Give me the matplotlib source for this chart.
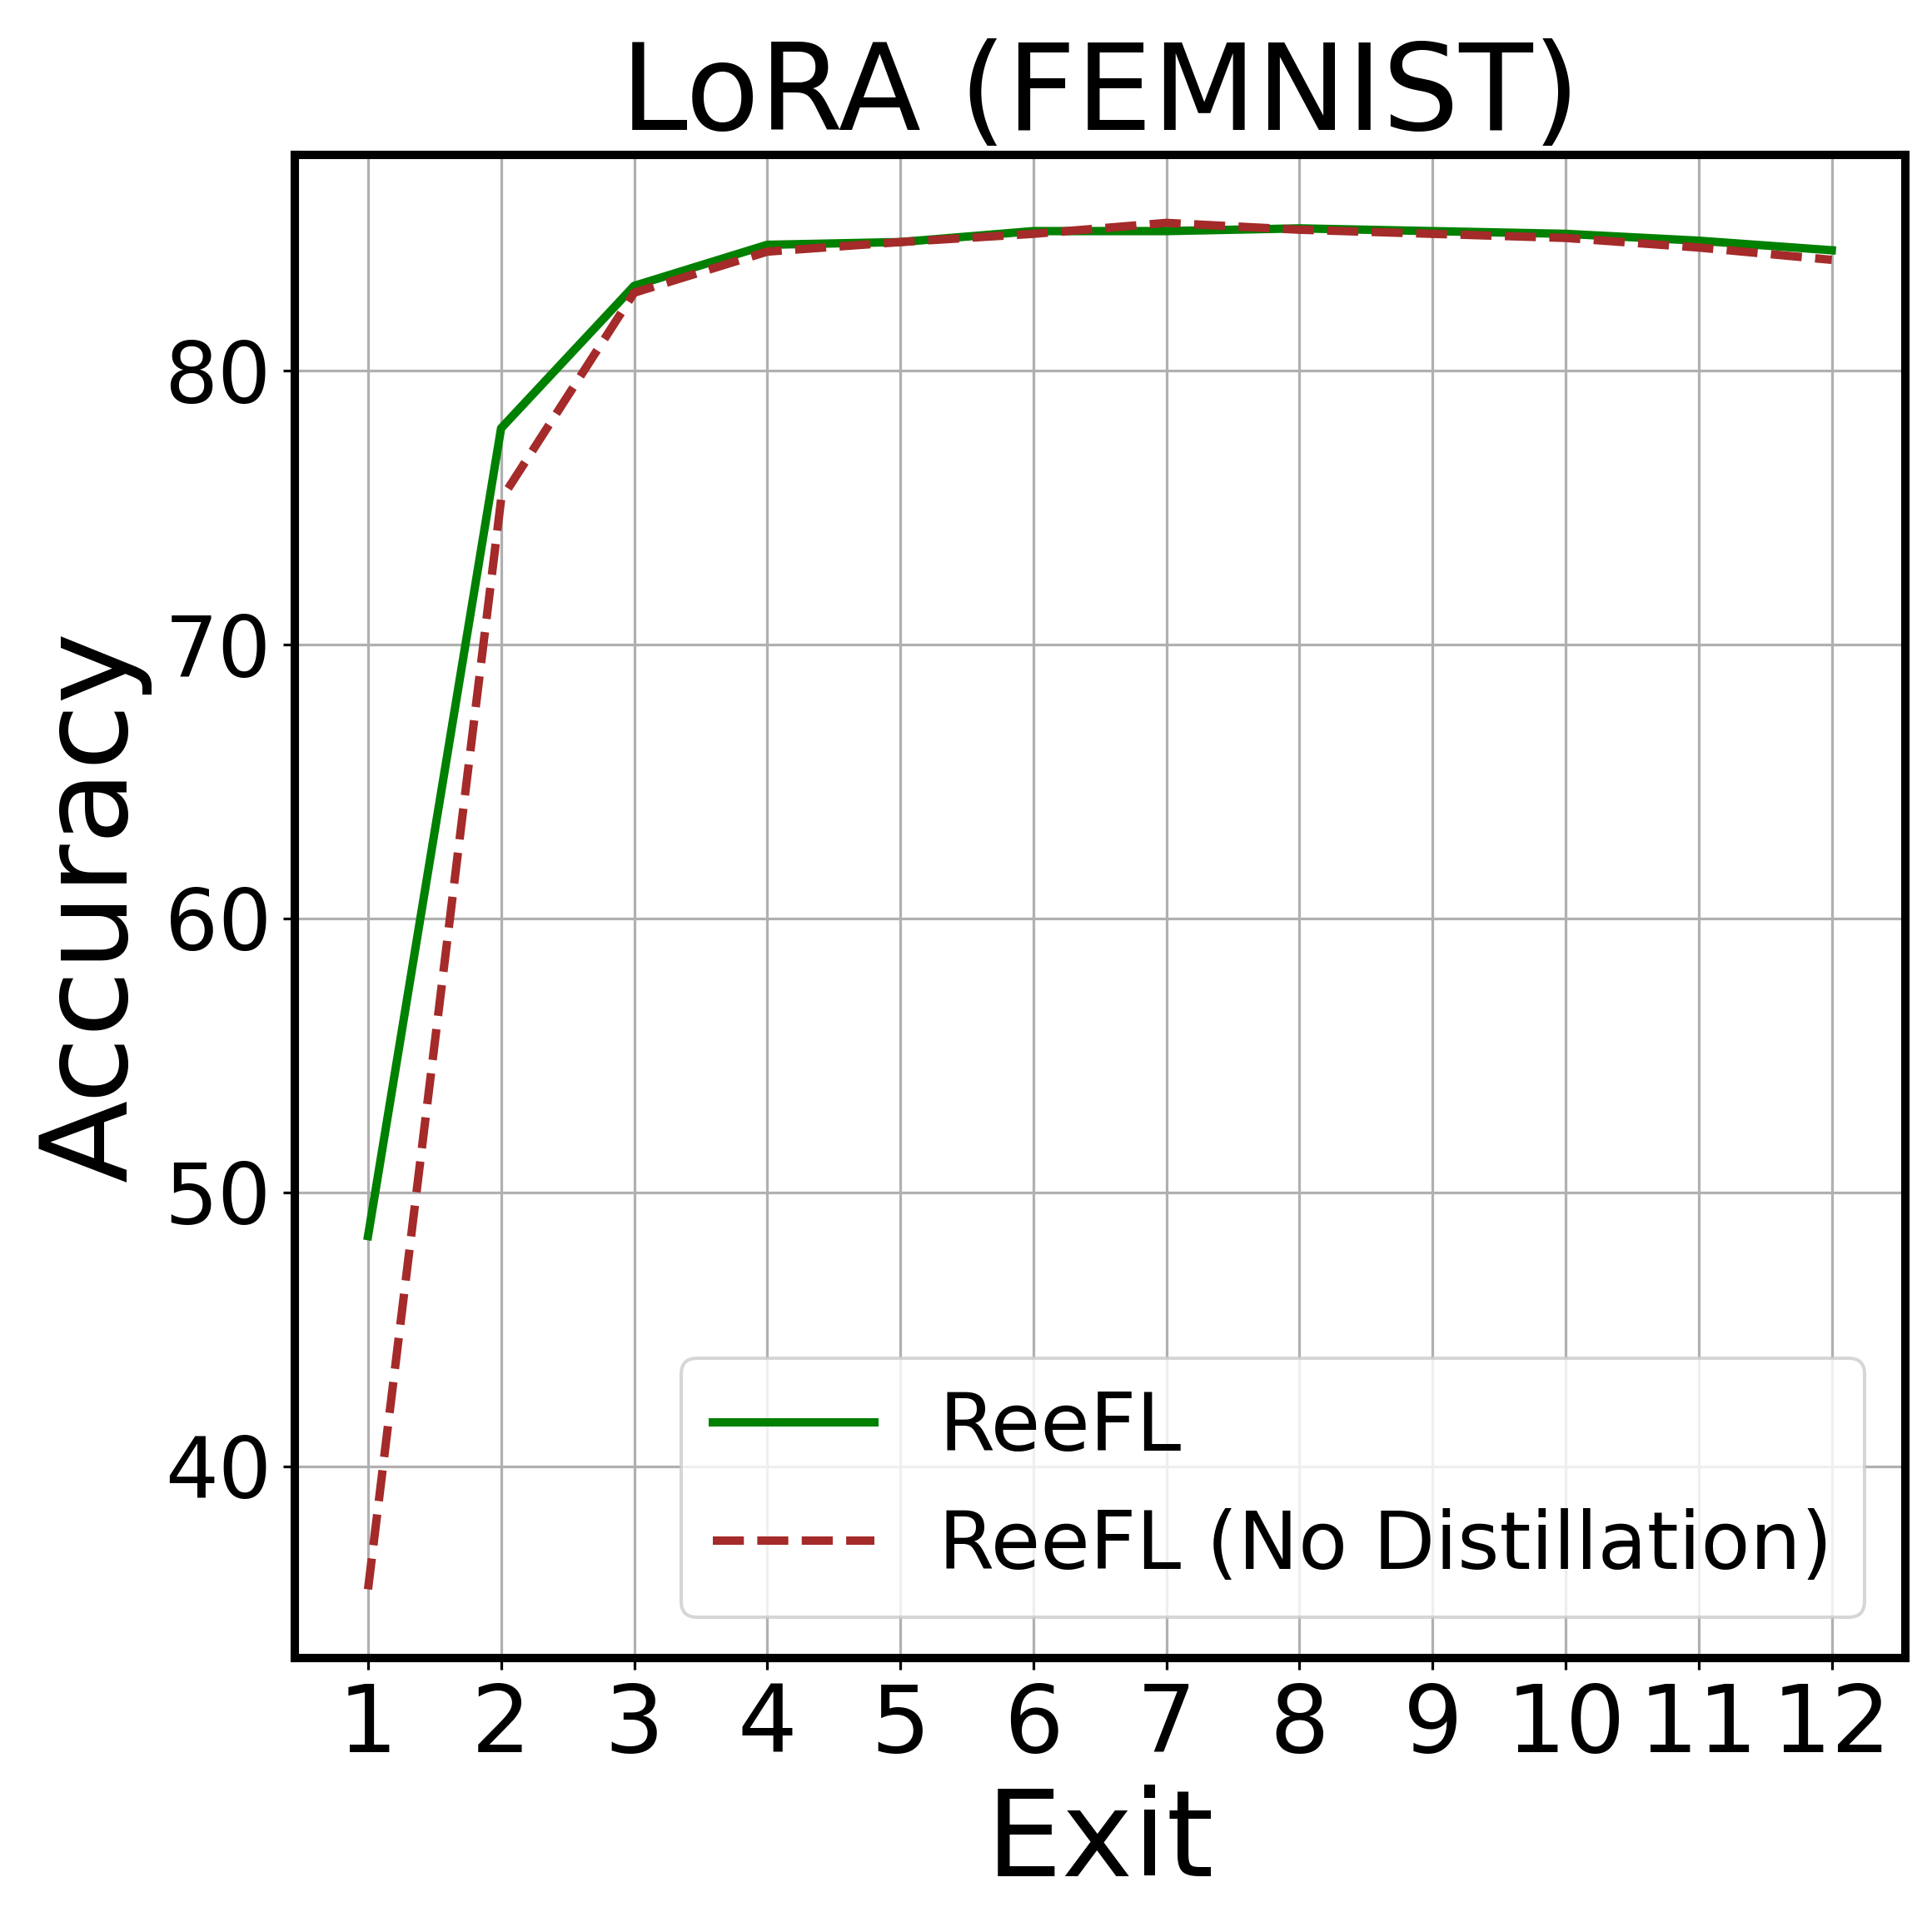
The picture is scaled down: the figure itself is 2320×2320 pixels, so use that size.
import matplotlib
matplotlib.use("Agg")
import matplotlib.pyplot as plt

exits = list(range(1, 13))
reefl = [48.4, 77.9, 83.1, 84.6, 84.7, 85.1, 85.1, 85.2, 85.1, 85.0, 84.75, 84.4]
reefl_no_distill = [35.5, 75.3, 82.85, 84.35, 84.7, 85.0, 85.4, 85.15, 85.0, 84.85, 84.5, 84.05]

series_names = ["ReeFL", "ReeFL (No Distillation)"]

fig, ax = plt.subplots(figsize=(8, 8), dpi=290)
fig.subplots_adjust(left=0.1526, right=0.986, top=0.92, bottom=0.142)

ax.plot(exits, reefl, color="green", linestyle="-", linewidth=2.5, label=series_names[0])
ax.plot(exits, reefl_no_distill, color="brown", linestyle="--", linewidth=2.5, label=series_names[1])

ax.set_title("LoRA (FEMNIST)", fontsize=36)
ax.set_xlabel("Exit", fontsize=36)
ax.set_ylabel("Accuracy", fontsize=36)
ax.set_xticks(exits)
ax.set_yticks([40, 50, 60, 70, 80])
ax.tick_params(axis="x", labelsize=28)
ax.tick_params(axis="y", labelsize=25)
ax.grid(True)
for s in ax.spines.values():
    s.set_linewidth(2.5)

ax.legend(loc="lower right", fontsize=24)

fig.savefig("out.png", dpi=290)
